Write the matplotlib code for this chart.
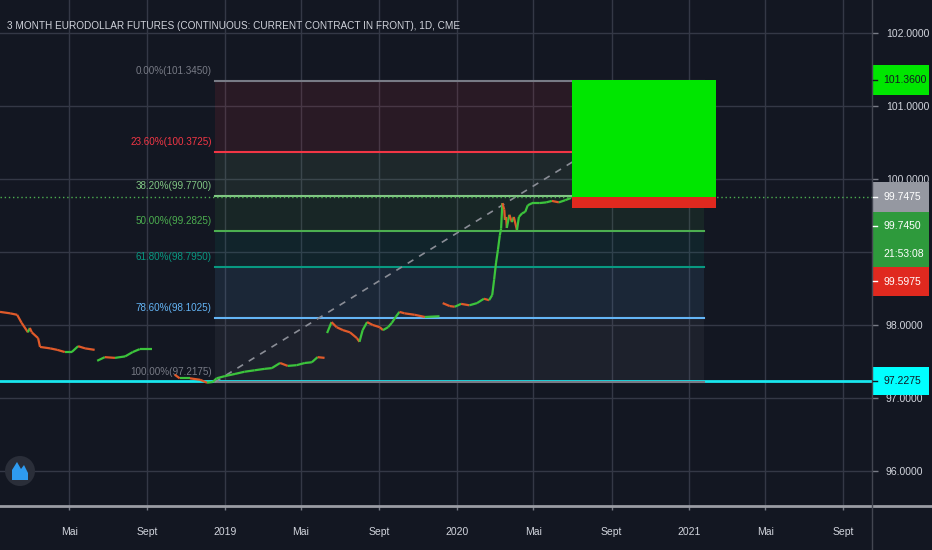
import matplotlib
matplotlib.use("Agg")
import matplotlib.pyplot as plt
from matplotlib.collections import LineCollection
from matplotlib.patches import Rectangle, Circle, Polygon
from matplotlib.lines import Line2D
from matplotlib.transforms import IdentityTransform
import matplotlib.dates as mdates
import numpy as np
import pandas as pd

plt.rcParams['font.family'] = ['Liberation Sans', 'DejaVu Sans']

##########  data

title = "3 MONTH EURODOLLAR FUTURES (CONTINUOUS: CURRENT CONTRACT IN FRONT), 1D, CME"

# closes, None = contract roll gap
price_dates = [
    "2018-01-12", "2018-01-28", "2018-02-08", "2018-02-15", "2018-02-25", "2018-02-28",
    "2018-03-03", "2018-03-13", "2018-03-16", "2018-04-01", "2018-04-12", "2018-04-24",
    "2018-05-05", "2018-05-15", "2018-05-26", "2018-06-10", "2018-06-12",
    "2018-06-14", "2018-06-26", "2018-07-12", "2018-07-28", "2018-08-09", "2018-08-20",
    "2018-09-08", "2018-09-20",
    "2018-10-14", "2018-10-22", "2018-11-07", "2018-11-23", "2018-12-04", "2018-12-13",
    "2018-12-19", "2019-01-01", "2019-01-17", "2019-02-01", "2019-02-17", "2019-03-05",
    "2019-03-16", "2019-03-29", "2019-04-10", "2019-04-24", "2019-05-07", "2019-05-18",
    "2019-05-27", "2019-06-07", "2019-06-09",
    "2019-06-11", "2019-06-18", "2019-06-26", "2019-07-06", "2019-07-17", "2019-07-28",
    "2019-08-01", "2019-08-06", "2019-08-13", "2019-08-22", "2019-09-02", "2019-09-07",
    "2019-09-15", "2019-09-21", "2019-09-27", "2019-10-03", "2019-10-11", "2019-10-27",
    "2019-11-12", "2019-12-05", "2019-12-07",
    "2019-12-10", "2019-12-21", "2019-12-29", "2020-01-08", "2020-01-21", "2020-02-02",
    "2020-02-13", "2020-02-21", "2020-02-26", "2020-02-29", "2020-03-03", "2020-03-06",
    "2020-03-09", "2020-03-11", "2020-03-13", "2020-03-16", "2020-03-17", "2020-03-19",
    "2020-03-20", "2020-03-24", "2020-03-28", "2020-03-31", "2020-04-05", "2020-04-08",
    "2020-04-13", "2020-04-18", "2020-04-22", "2020-04-29", "2020-05-10", "2020-05-21",
    "2020-05-30", "2020-06-10", "2020-06-20", "2020-06-29",
]
price_close = [
    98.18, 98.16, 98.14, 98.03, 97.90, 97.96,
    97.90, 97.82, 97.70, 97.68, 97.66, 97.63,
    97.63, 97.71, 97.68, 97.66, None,
    97.51, 97.56, 97.55, 97.57, 97.63, 97.67,
    97.67, None,
    97.32, 97.27, 97.27, 97.25, 97.21, 97.22,
    97.27, 97.30, 97.33, 97.36, 97.38, 97.40,
    97.41, 97.48, 97.44, 97.45, 97.48, 97.49,
    97.56, 97.55, None,
    97.89, 98.04, 97.97, 97.93, 97.90, 97.82,
    97.77, 97.93, 98.04, 98.00, 97.97, 97.93,
    97.97, 98.03, 98.11, 98.18, 98.16, 98.14,
    98.11, 98.12, None,
    98.30, 98.26, 98.25, 98.29, 98.27, 98.30,
    98.36, 98.34, 98.41, 98.62, 98.85, 99.03,
    99.23, 99.32, 99.67, 99.58, 99.44, 99.48,
    99.33, 99.51, 99.41, 99.48, 99.30, 99.48,
    99.53, 99.55, 99.64, 99.67, 99.67, 99.68,
    99.70, 99.68, 99.71, 99.74,
]

# fibonacci retracement
fib_start = "2018-12-16"
fib_end = "2021-01-25"
fib_pct = [0.0, 23.6, 38.2, 50.0, 61.8, 78.6, 100.0]
fib_price = [101.3450, 100.3725, 99.7700, 99.2825, 98.7950, 98.1025, 97.2175]
fib_colors = ["#787b86", "#f23645", "#81c784", "#4caf50", "#089981", "#64b5f6", "#787b86"]

# long position tool
pos_start = "2020-07-01"
pos_end = "2021-02-13"
target_price = 101.36
entry_price = 99.7475
stop_price = 99.5975

support_price = 97.2275
last_price = 99.7475
bid_price = 99.7450
countdown = "21:53:08"

x_ticks = ["2018-05-01", "2018-09-01", "2019-01-01", "2019-05-01", "2019-09-01", "2020-01-01",
           "2020-05-01", "2020-09-01", "2021-01-01", "2021-05-01", "2021-09-01"]
x_labels = ["Mai", "Sept", "2019", "Mai", "Sept", "2020", "Mai", "Sept", "2021", "Mai", "Sept"]
y_ticks = [96, 97, 98, 99, 100, 101, 102]
y_labels = ["96.0000", "97.0000", "98.0000", "", "100.0000", "101.0000", "102.0000"]

x_range = ["2018-01-12", "2021-10-16"]
y_range = [95.521, 102.452]

##########

BG = "#131722"
GRID = "#343846"
TXT = "#d1d4dc"
UP = "#3cc43c"
DOWN = "#e05a2a"
W, H = 932, 550
FS = 7.5

def d(s):
    return mdates.date2num(pd.Timestamp(s))

fig = plt.figure(figsize=(W / 100, H / 100), dpi=100, facecolor=BG)
ax = fig.add_axes([0, 44 / H, 872 / W, 506 / H], facecolor=BG)
ax.set_xlim(d(x_range[0]), d(x_range[1]))
ax.set_ylim(*y_range)

for s in ax.spines.values():
    s.set_visible(False)

ax.set_xticks([d(t) for t in x_ticks])
ax.set_xticklabels(x_labels)
ax.set_yticks(y_ticks)
ax.set_yticklabels(y_labels)
ax.yaxis.tick_right()
ax.tick_params(axis="x", colors=TXT, labelsize=FS, length=3, width=1, pad=12, color="#787b86")
ax.tick_params(axis="y", colors=TXT, labelsize=FS, length=4, width=1, pad=6, color="#787b86")
ax.grid(True, color=GRID, lw=1)
ax.set_axisbelow(True)

# support line
ax.axhline(support_price, color="#19e6ee", lw=2, zorder=2)

# fib bands and levels
fs, fe = d(fib_start), d(fib_end)
for i in range(len(fib_price) - 1):
    ax.fill_between([fs, fe], fib_price[i], fib_price[i + 1], color=fib_colors[i + 1],
                    alpha=0.10, lw=0, zorder=1)
for pct, pr, c in zip(fib_pct, fib_price, fib_colors):
    ax.plot([fs, fe], [pr, pr], color=c, lw=1.5, zorder=3)
    ax.annotate("%.2f%%(%.4f)" % (pct, pr), xy=(fs, pr), xytext=(-3, 10),
                textcoords="offset pixels", ha="right", va="center", color=c, fontsize=7.1,
                zorder=4)
ax.plot([fs, fe], [fib_price[-1], fib_price[0]], color="#8a8d96", lw=1.2,
        ls=(0, (4, 4)), zorder=3)

# last price line
ax.axhline(last_price, color="#4caf50", lw=1, ls=(0, (1, 2)), zorder=3)

# price path
xs = [d(t) for t in price_dates]
segs, cols = [], []
for i in range(1, len(xs)):
    a, b = price_close[i - 1], price_close[i]
    if a is None or b is None:
        continue
    segs.append([(xs[i - 1], a), (xs[i], b)])
    cols.append(UP if b >= a else DOWN)
ax.add_collection(LineCollection(segs, colors=cols, linewidths=1.6, zorder=5))

# long position boxes
ps, pe = d(pos_start), d(pos_end)
ax.add_patch(Rectangle((ps, entry_price), pe - ps, target_price - entry_price,
                       facecolor="#00e600", edgecolor="none", zorder=6))
ax.add_patch(Rectangle((ps, stop_price), pe - ps, entry_price - stop_price,
                       facecolor="#e0291f", edgecolor="none", zorder=6))

# frame lines
fig.add_artist(Line2D([0, 1], [44 / H, 44 / H], color="#9a9ca4", lw=2))
fig.add_artist(Line2D([872 / W, 872 / W], [0, 1], color="#434651", lw=1))

# price scale labels
def py(v):
    return ax.transData.transform((0, v))[1]

def scale_box(top, h, face, lines, tc, mark=None):
    fig.add_artist(Rectangle((873, top - h), 56, h, facecolor=face, edgecolor="none",
                             transform=IdentityTransform()))
    n = len(lines)
    for k, t in enumerate(lines):
        yy = top - h * (k + 0.5) / n
        fig.text(883 / W, yy / H, t, color=tc, fontsize=FS, va="center", ha="left")
    if mark is not None:
        fig.add_artist(Line2D([873, 877], [mark, mark], color=tc, lw=1,
                              transform=IdentityTransform()))

yt = py(target_price)
scale_box(yt + 15, 30, "#00e600", ["%.4f" % target_price], "#131722", yt)
yl = py(last_price)
scale_box(yl + 15, 30, "#9598a1", ["%.4f" % last_price], "white", yl)
scale_box(yl - 15, 55, "#2e9a3c", ["%.4f" % bid_price, countdown], "white", yl - 29)
scale_box(yl - 70, 29, "#e0291f", ["%.4f" % stop_price], "white", yl - 84)
ys = py(support_price)
scale_box(ys + 14, 28, "#00ffff", ["%.4f" % support_price], "#131722", ys)

# title
fig.text(7 / W, 1 - 26 / H, title, color=TXT, fontsize=7.2, va="center", ha="left")

# logo
fig.add_artist(Circle((20, 79), 15, facecolor="#2a2e39", edgecolor="none",
                      transform=IdentityTransform()))
fig.add_artist(Polygon([(12, 70), (12, 80), (17, 88), (21, 81), (24, 85), (28, 77), (28, 70)],
                       closed=True, facecolor="#2e9bf0", edgecolor="none",
                       transform=IdentityTransform()))

fig.savefig("out.png", dpi=100, facecolor=BG)
